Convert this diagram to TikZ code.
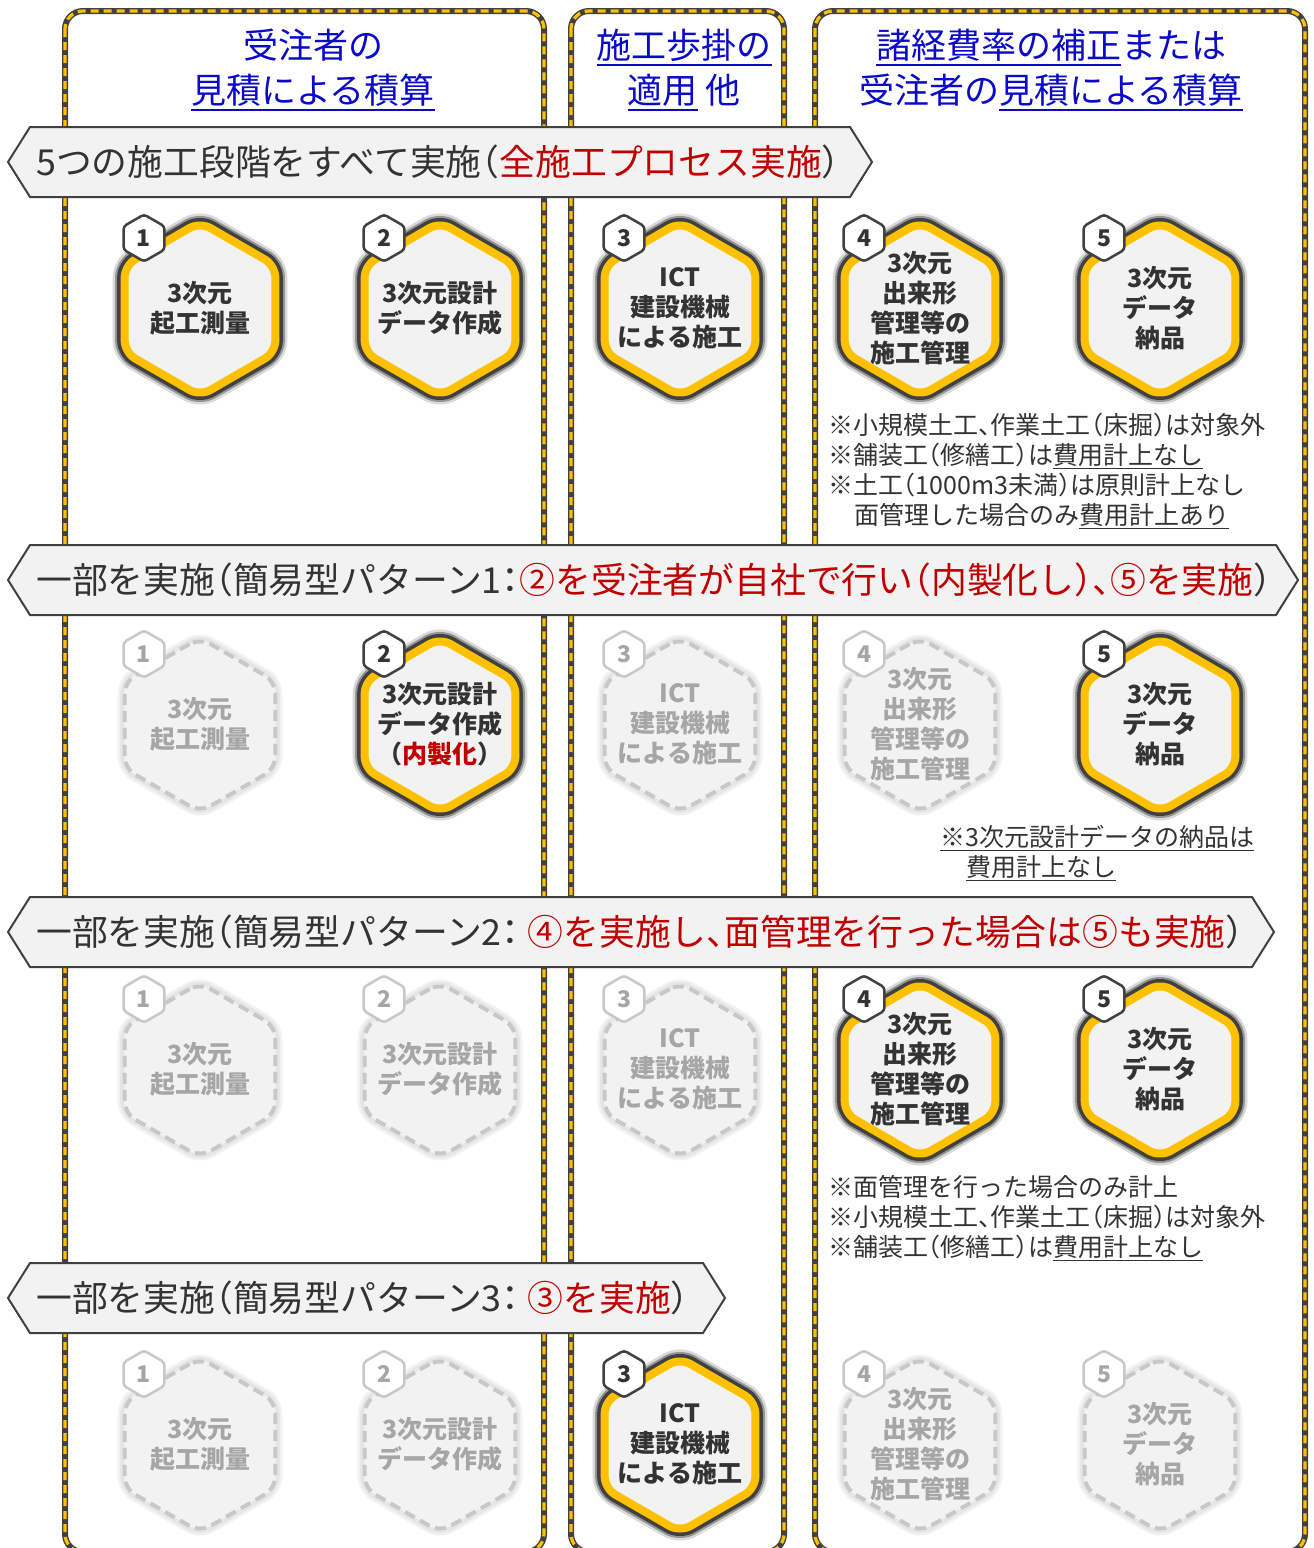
\documentclass[tikz,border=0pt]{standalone}
\usepackage{fontspec}
\setmainfont{Noto Sans CJK JP}[RawFeature=+halt]
\usetikzlibrary{shapes.geometric}
\definecolor{sarga}{HTML}{FFC000}
\definecolor{sotet}{HTML}{404040}
\definecolor{szurke}{HTML}{F2F2F2}
\definecolor{halvany}{HTML}{A6A6A6}
\definecolor{halvanyvonal}{HTML}{C8C8C8}
\definecolor{kek}{HTML}{0A0AC8}
\definecolor{piros}{HTML}{C00000}
\definecolor{szoveg}{HTML}{333333}
% alahuzas vastagabb vonallal
\newcommand{\alahuz}[1]{\leavevmode\setbox0\hbox{#1}\rlap{\vrule width\wd0 height -0.15em depth 0.2em}\box0\relax}
\tikzset{
  oszlop/.style={draw=sotet,line width=6pt,rounded corners=18pt,
                 postaction={draw=sarga,line width=3.2pt,dash pattern=on 8pt off 5pt}},
  fejlec/.style={align=center,text=kek,inner sep=0pt,font=\fontsize{35}{45}\selectfont},
  szalag/.style={draw=sotet,line width=2pt,fill=szurke},
  szalagszoveg/.style={anchor=west,inner sep=0pt,text=szoveg,font=\fontsize{35.8}{40}\selectfont},
  hatszog/.style={regular polygon,regular polygon sides=6,shape border rotate=30,
                  minimum size=174pt,inner sep=0pt,rounded corners=12pt},
  hatszogbe/.style={hatszog,fill=szurke,draw=sarga,line width=8pt,
                    preaction={draw=black,opacity=.15,line width=24pt},
                    preaction={draw=sotet,opacity=.45,line width=19pt},
                    preaction={draw=sotet,line width=15pt}},
  hatszogki/.style={hatszog,fill=szurke,draw=halvanyvonal,line width=4pt,dash pattern=on 11pt off 6pt,
                    preaction={draw=black,solid,opacity=.05,line width=14pt},
                    preaction={draw=black,solid,opacity=.05,line width=9pt}},
  feliratbe/.style={align=center,inner sep=0pt,yshift=1pt,text=szoveg,font=\bfseries\fontsize{25}{30}\selectfont},
  feliratki/.style={feliratbe,text=halvany},
  jelvenybe/.style={regular polygon,regular polygon sides=6,shape border rotate=30,
                    minimum size=47pt,inner sep=0pt,rounded corners=3pt,fill=white,draw=sotet,
                    line width=2.5pt,text=szoveg,font=\bfseries\fontsize{23}{23}\selectfont},
  jelvenyki/.style={jelvenybe,draw=halvanyvonal,text=halvany},
  megj/.style={anchor=west,align=left,inner sep=0pt,text=szoveg,font=\fontsize{25}{30}\selectfont},
}
% hatszog lapka: nev, x, y, szam, be/ki, szoveg
\newcommand{\lapka}[6]{%
  \node[hatszog#5] (#1) at (#2,#3) {};
  \node[felirat#5] (#1t) at (#1.center) {#6};
  \node[jelveny#5] (#1j) at ([xshift=-56pt,yshift=71pt]#1.center) {#4};
}
\begin{document}
\begin{tikzpicture}[x=1pt,y=-1pt]
  \useasboundingbox (0,0) rectangle (1314,1548);
  % oszlopok
  \draw[oszlop] (65,11) rectangle (544,1552);
  \draw[oszlop] (571,11) rectangle (784,1552);
  \draw[oszlop] (815,11) rectangle (1305,1552);
  % fejlecek
  \node[fejlec] (f1) at (313,70) {受注者の\\\alahuz{見積による積算}};
  \node[fejlec] (f2) at (684,70) {\alahuz{施工歩掛の}\\\alahuz{適用} 他};
  \node[fejlec] (f3) at (1051,70) {\alahuz{諸経費率の補正}または\\受注者の\alahuz{見積による積算}};
  % szalagok
  \draw[szalag] (8,162) -- (30,127) -- (850,127) -- (872,162) -- (850,197) -- (30,197) -- cycle;
  \node[szalagszoveg] (s1) at (36,162) {5つの施工段階をすべて実施（{\color{piros}全施工プロセス実施}）};
  \draw[szalag] (8,580) -- (30,545) -- (1276,545) -- (1298,580) -- (1276,615) -- (30,615) -- cycle;
  \node[szalagszoveg] (s2) at (36,580) {一部を実施（簡易型パターン1：{\color{piros}②を受注者が自社で行い（内製化し）、⑤を実施}）};
  \draw[szalag] (8,932) -- (30,897) -- (1252,897) -- (1274,932) -- (1252,967) -- (30,967) -- cycle;
  \node[szalagszoveg] (s3) at (36,932) {一部を実施（簡易型パターン2： {\color{piros}④を実施し、面管理を行った場合は⑤も実施}）};
  \draw[szalag] (8,1298) -- (30,1263) -- (703,1263) -- (725,1298) -- (703,1333) -- (30,1333) -- cycle;
  \node[szalagszoveg] (s4) at (36,1298) {一部を実施（簡易型パターン3： {\color{piros}③を実施}）};
  % 1. sor
  \lapka{a1}{200}{309}{1}{be}{3次元\\起工測量}
  \lapka{a2}{440}{309}{2}{be}{3次元設計\\データ作成}
  \lapka{a3}{680}{309}{3}{be}{ICT\\建設機械\\による施工}
  \lapka{a4}{920}{309}{4}{be}{3次元\\出来形\\管理等の\\施工管理}
  \lapka{a5}{1160}{309}{5}{be}{3次元\\データ\\納品}
  % 2. sor
  \lapka{b1}{200}{725}{1}{ki}{3次元\\起工測量}
  \lapka{b2}{440}{725}{2}{be}{3次元設計\\データ作成\\（{\color{piros}内製化}）}
  \lapka{b3}{680}{725}{3}{ki}{ICT\\建設機械\\による施工}
  \lapka{b4}{920}{725}{4}{ki}{3次元\\出来形\\管理等の\\施工管理}
  \lapka{b5}{1160}{725}{5}{be}{3次元\\データ\\納品}
  % 3. sor
  \lapka{c1}{200}{1070}{1}{ki}{3次元\\起工測量}
  \lapka{c2}{440}{1070}{2}{ki}{3次元設計\\データ作成}
  \lapka{c3}{680}{1070}{3}{ki}{ICT\\建設機械\\による施工}
  \lapka{c4}{920}{1070}{4}{be}{3次元\\出来形\\管理等の\\施工管理}
  \lapka{c5}{1160}{1070}{5}{be}{3次元\\データ\\納品}
  % 4. sor
  \lapka{d1}{200}{1445}{1}{ki}{3次元\\起工測量}
  \lapka{d2}{440}{1445}{2}{ki}{3次元設計\\データ作成}
  \lapka{d3}{680}{1445}{3}{be}{ICT\\建設機械\\による施工}
  \lapka{d4}{920}{1445}{4}{ki}{3次元\\出来形\\管理等の\\施工管理}
  \lapka{d5}{1160}{1445}{5}{ki}{3次元\\データ\\納品}
  % megjegyzesek
  \node[megj] (m1) at (828,471) {※小規模土工、作業土工（床掘）は対象外\\※舗装工（修繕工）は\alahuz{費用計上なし}\\※土工（1000m3未満）は原則計上なし\\\hspace*{1.05em}面管理した場合のみ\alahuz{費用計上あり}};
  \node[megj] (m2) at (940,853) {\alahuz{※3次元設計データの納品は}\\\hspace*{1.05em}\alahuz{費用計上なし}};
  \node[megj] (m3) at (828,1218) {※面管理を行った場合のみ計上\\※小規模土工、作業土工（床掘）は対象外\\※舗装工（修繕工）は\alahuz{費用計上なし}};
\end{tikzpicture}
\end{document}
